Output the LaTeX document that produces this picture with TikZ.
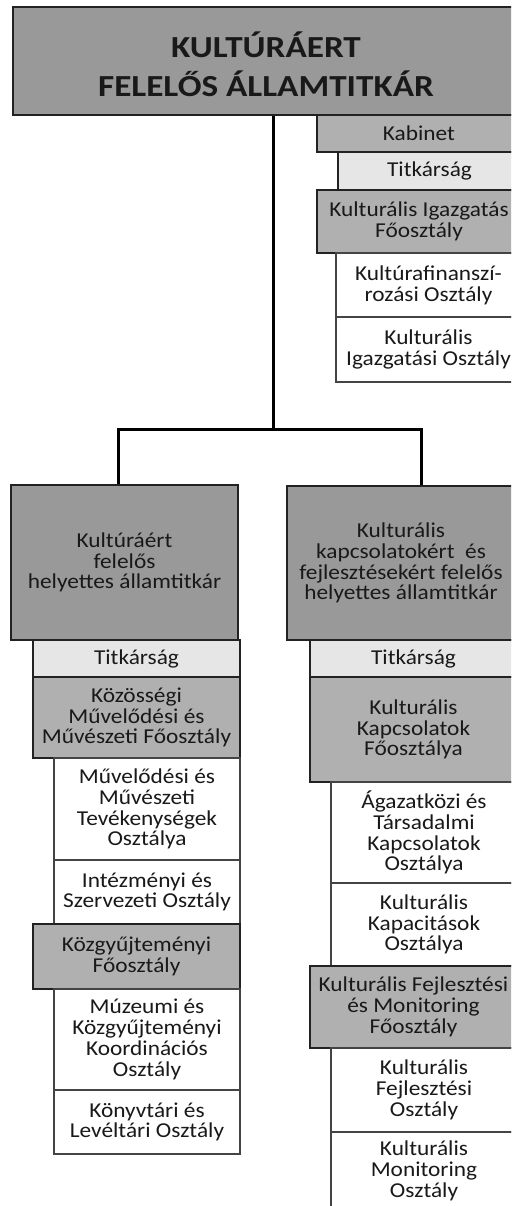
\documentclass[tikz,border=0pt]{standalone}
\usepackage{fontspec}
\setmainfont{Carlito}[FakeStretch=1.1]
\newfontfamily\titlefont{Carlito}[FakeStretch=1.15]
\definecolor{darkfill}{HTML}{999999}
\definecolor{midfill}{HTML}{B0B0B0}
\definecolor{lightfill}{HTML}{E6E6E6}
\definecolor{edge}{HTML}{222222}
\definecolor{thinedge}{HTML}{444444}

\tikzset{
  unit/.style={rectangle, inner sep=0pt, align=center, text=black!90,
    font={\fontsize{21.2}{20.8}\selectfont}},
  topbox/.style={unit, fill=darkfill, draw=edge, line width=2.2pt},
  titletext/.style={inner sep=0pt, align=center, text=black!90,
    font={\titlefont\bfseries\fontsize{30.6}{39}\selectfont}},
  depbox/.style={unit, fill=darkfill, draw=edge, line width=1.5pt},
  deptbox/.style={unit, fill=midfill, draw=edge, line width=1.5pt},
  secrbox/.style={unit, fill=lightfill, draw=edge, line width=1.3pt},
  divbox/.style={unit, fill=white, draw=thinedge, line width=1.3pt},
  conn/.style={line width=3pt, draw=black}
}

% box with its corners given as x1,y1,x2,y2
\newcommand\unitbox[7]{%
  \node[#1, minimum width={#5-#3}, minimum height={#6-#4}] (#2)
    at ({(#3+#5)/2},{(#4+#6)/2}) {#7};}

\begin{document}
\begin{tikzpicture}[x=1pt, y=-1pt]
\useasboundingbox (0,0) rectangle (511,1206);
\clip (0,0) rectangle (511,1206);
\fill[white] (0,0) rectangle (511,1206);

% connectors
\coordinate (split) at (273,429);
\coordinate (jL) at (118,429);
\coordinate (jR) at (421,429);

% state secretary
\unitbox{topbox}{sec}{13}{7}{519}{115}{}
\node[titletext, yshift=-3pt] (secT) at (sec.center) {KULTÚRÁERT\\FELELŐS ÁLLAMTITKÁR};

% cabinet and its units
\unitbox{deptbox}{kab}{317}{115}{521}{152}{Kabinet}
\unitbox{secrbox}{titk}{338}{152}{521}{190}{Titkárság}
\unitbox{deptbox}{kigF}{317}{190}{521}{253}{Kulturális Igazgatás\\Főosztály}
\unitbox{divbox}{kfinO}{336}{253}{521}{317}{Kultúrafinanszí-\\rozási Osztály}
\unitbox{divbox}{kigO}{336}{317}{521}{382}{Kulturális\\Igazgatási Osztály}

% left deputy
\unitbox{depbox}{depL}{11}{485}{238}{640}{Kultúráért\\felelős\\helyettes államtitkár}
\unitbox{secrbox}{titkL}{33}{640}{240}{677}{Titkárság}
\unitbox{deptbox}{kmF}{33}{677}{240}{758}{Közösségi\\Művelődési és\\Művészeti Főosztály}
\unitbox{divbox}{mmO}{54}{758}{240}{860}{Művelődési és\\Művészeti\\Tevékenységek\\Osztálya}
\unitbox{divbox}{iszO}{54}{860}{240}{924}{Intézményi és\\Szervezeti Osztály}
\unitbox{deptbox}{kgyF}{33}{924}{240}{989}{Közgyűjteményi\\Főosztály}
\unitbox{divbox}{mkO}{54}{989}{240}{1090}{Múzeumi és\\Közgyűjteményi\\Koordinációs\\Osztály}
\unitbox{divbox}{klO}{54}{1090}{240}{1154}{Könyvtári és\\Levéltári Osztály}

% right deputy
\unitbox{depbox}{depR}{287}{486}{515}{640}{Kulturális\\kapcsolatokért\ \ és\\fejlesztésekért felelős\\helyettes államtitkár}
\unitbox{secrbox}{titkR}{310}{640}{517}{677}{Titkárság}
\unitbox{deptbox}{kkF}{310}{677}{517}{782}{Kulturális\\Kapcsolatok\\Főosztálya}
\unitbox{divbox}{atO}{331}{782}{517}{883}{Ágazatközi és\\Társadalmi\\Kapcsolatok\\Osztálya}
\unitbox{divbox}{kapO}{331}{883}{517}{966}{Kulturális\\Kapacitások\\Osztálya}
\unitbox{deptbox}{kfmF}{310}{966}{517}{1048}{Kulturális Fejlesztési\\és Monitoring\\Főosztály}
\unitbox{divbox}{kfO}{331}{1048}{517}{1132}{Kulturális\\Fejlesztési\\Osztály}
\unitbox{divbox}{kmO}{331}{1132}{517}{1210}{Kulturális\\Monitoring\\Osztály}

\draw[conn] (sec.south -| split) -- (split);
\draw[conn] (depL.north -| jL) -- (jL) -- (jR) -- (depR.north -| jR);
\end{tikzpicture}
\end{document}
